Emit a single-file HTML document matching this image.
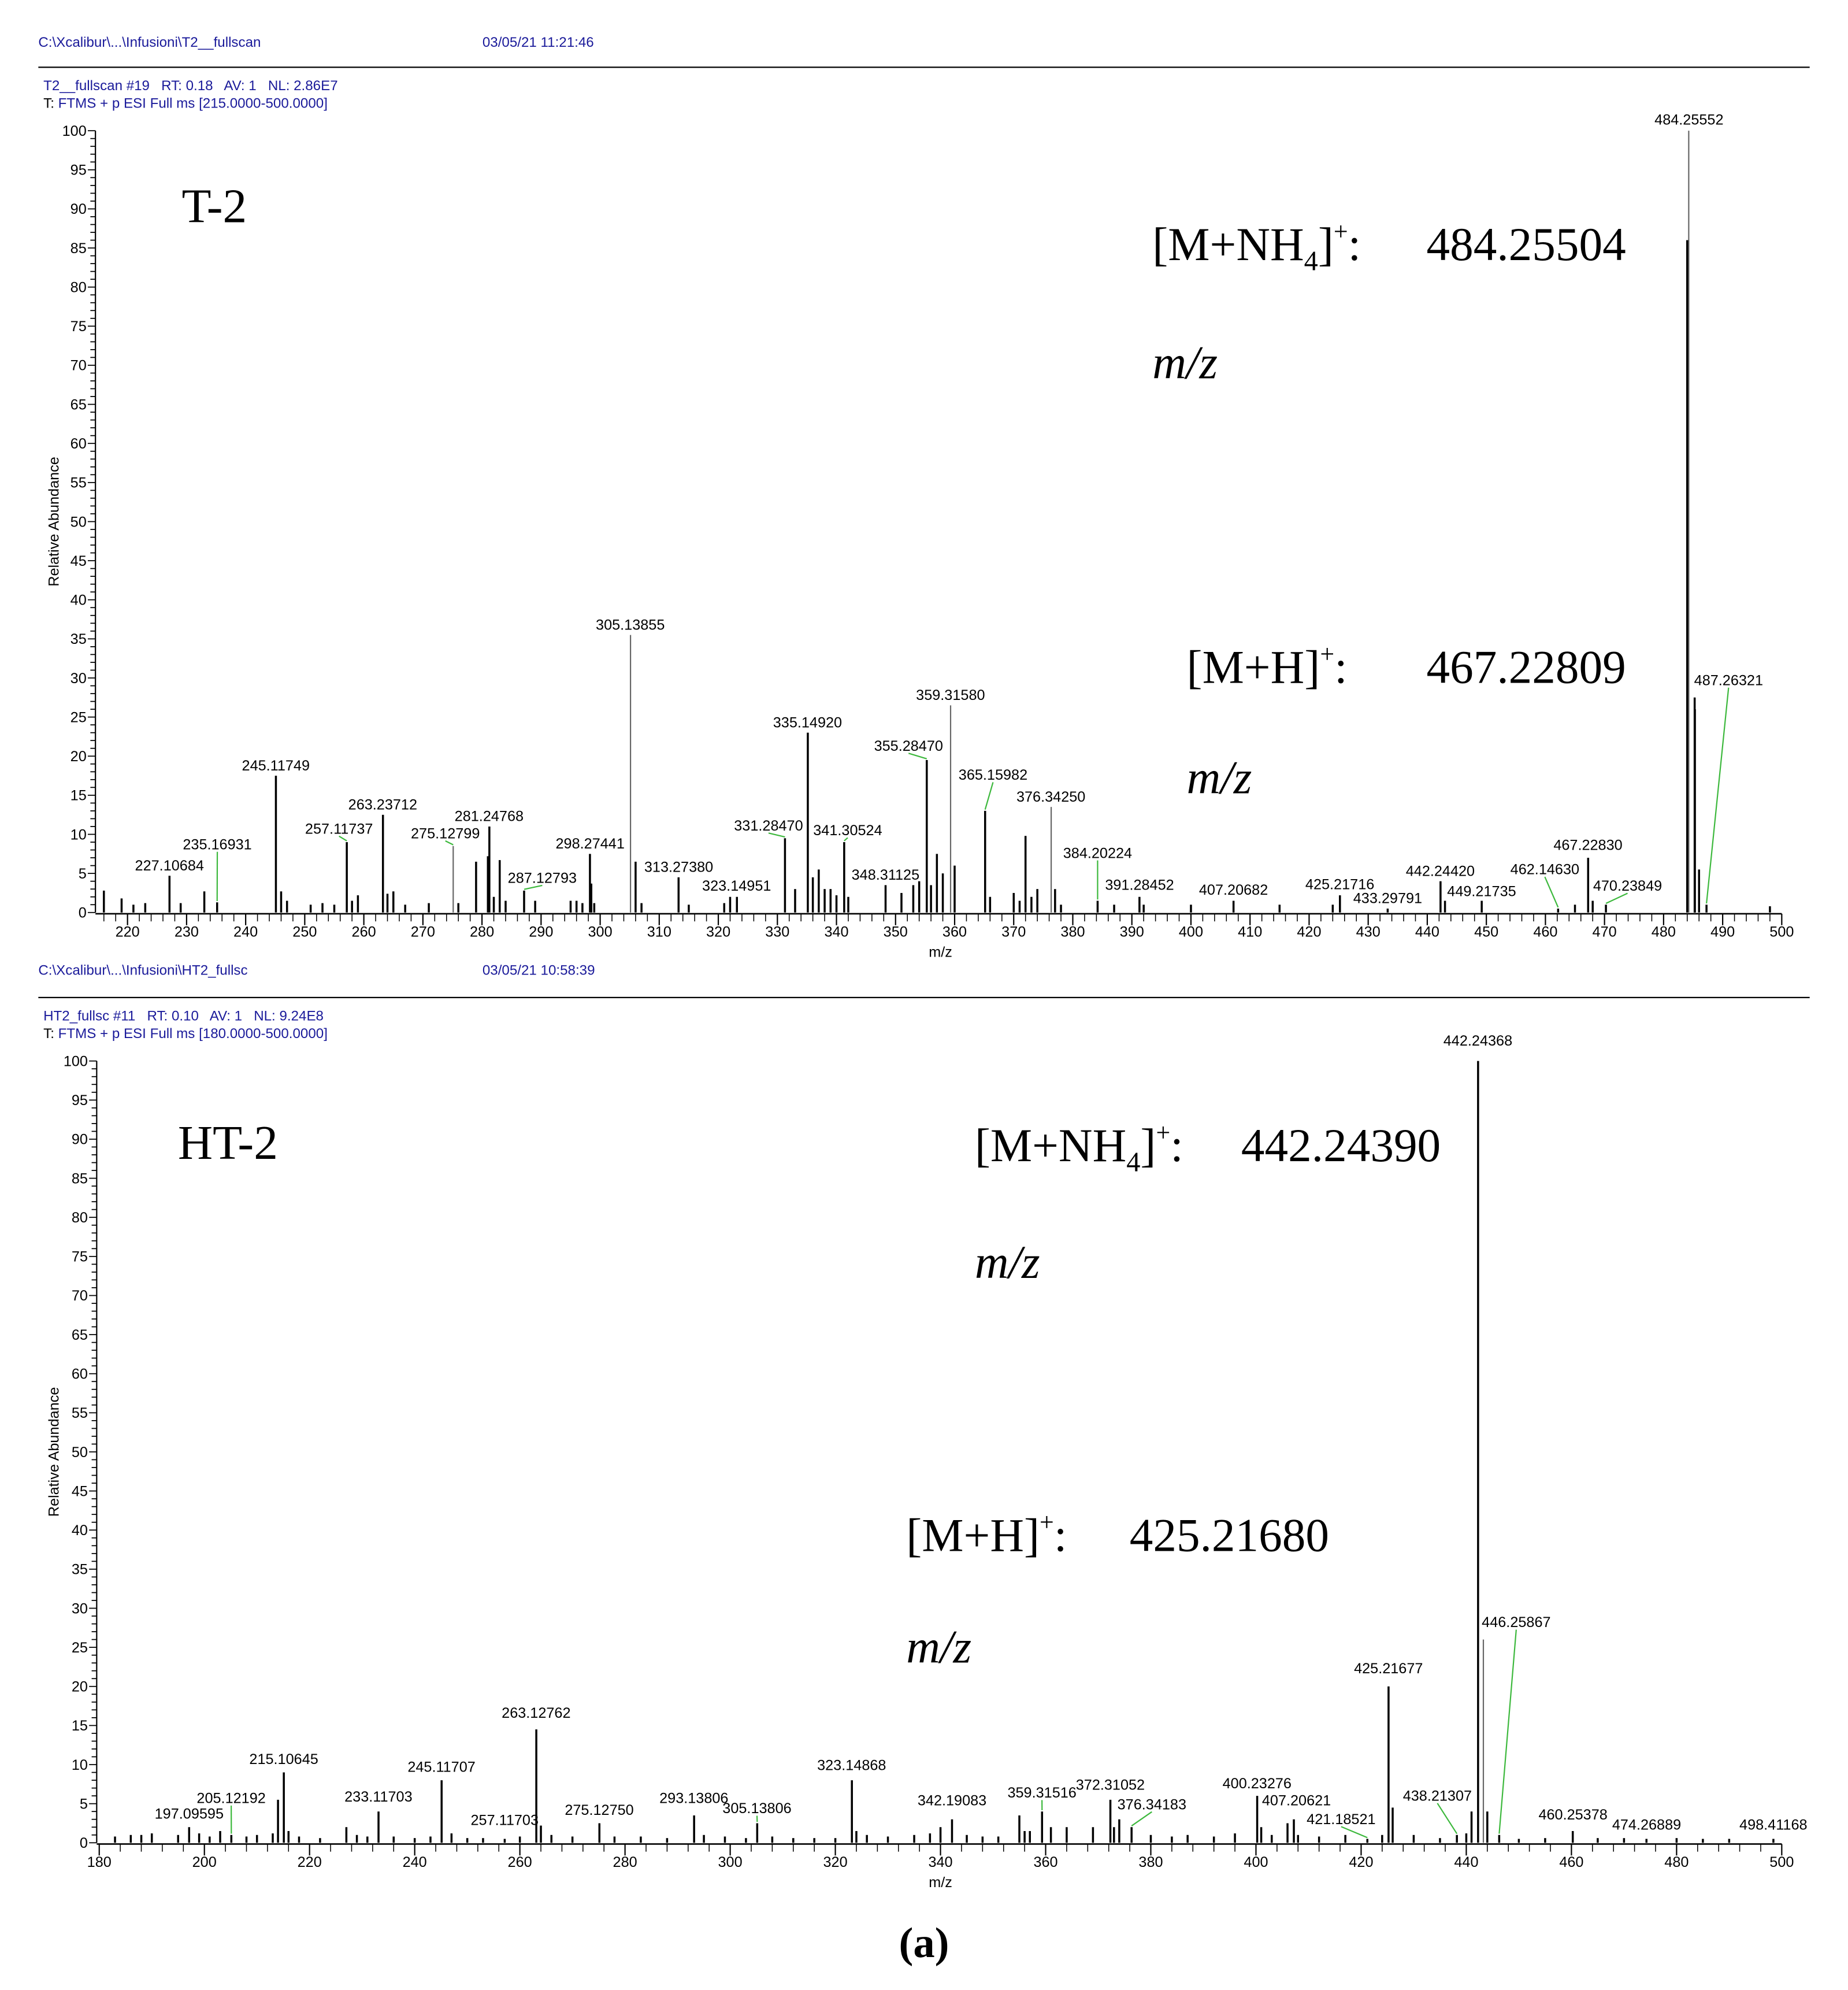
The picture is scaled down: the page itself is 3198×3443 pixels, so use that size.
<!DOCTYPE html>
<html><head><meta charset="utf-8"><style>
html,body{margin:0;padding:0;background:#fff}
svg{display:block}
.hd{font-family:"Liberation Sans",sans-serif;font-size:11px;fill:#1a1a9a;white-space:pre}
.tk{font-family:"Liberation Sans",sans-serif;font-size:11.5px;fill:#000}
.lb{font-family:"Liberation Sans",sans-serif;font-size:11.5px;fill:#000}
.big{font-family:"Liberation Serif",serif;font-size:37px;fill:#000}
</style></head><body>
<svg id="chart" width="3198" height="3443" viewBox="0 0 1456 1568" xmlns="http://www.w3.org/2000/svg" xml:space="preserve">
<g>
<text class="hd" x="30" y="37">C:\Xcalibur\...\Infusioni\T2__fullscan</text>
<text class="hd" x="380" y="37">03/05/21 11:21:46</text>
<line x1="30" y1="53" x2="1426" y2="53" stroke="#000" stroke-width="1"/>
<text class="hd" x="34" y="71">T2__fullscan #19   RT: 0.18   AV: 1   NL: 2.86E7</text>
<text class="hd" x="34" y="85"><tspan fill="#000">T:</tspan> FTMS + p ESI Full ms [215.0000-500.0000]</text>
</g>
<g>
<text class="hd" x="30" y="768">C:\Xcalibur\...\Infusioni\HT2_fullsc</text>
<text class="hd" x="380" y="768">03/05/21 10:58:39</text>
<line x1="30" y1="786" x2="1426" y2="786" stroke="#000" stroke-width="1"/>
<text class="hd" x="34" y="804">HT2_fullsc #11   RT: 0.10   AV: 1   NL: 9.24E8</text>
<text class="hd" x="34" y="818"><tspan fill="#000">T:</tspan> FTMS + p ESI Full ms [180.0000-500.0000]</text>
</g>
<g>
<text class="big" x="143" y="175" style="font-size:38px">T-2</text>
<text class="big" x="908" y="205">[M+NH<tspan font-size="22" dy="8">4</tspan><tspan dy="-8">]</tspan><tspan font-size="20" dy="-16">+</tspan><tspan dy="16">:</tspan></text>
<text class="big" x="1124" y="205">484.25504</text>
<text class="big" x="908" y="298" font-style="italic">m/z</text>
<text class="big" x="935" y="538">[M+H]<tspan font-size="20" dy="-16">+</tspan><tspan dy="16">:</tspan></text>
<text class="big" x="1124" y="538">467.22809</text>
<text class="big" x="935" y="625" font-style="italic">m/z</text>
</g>
<g>
<text class="big" x="140" y="913" style="font-size:38px">HT-2</text>
<text class="big" x="768" y="915">[M+NH<tspan font-size="22" dy="8">4</tspan><tspan dy="-8">]</tspan><tspan font-size="20" dy="-16">+</tspan><tspan dy="16">:</tspan></text>
<text class="big" x="978" y="915">442.24390</text>
<text class="big" x="768" y="1007" font-style="italic">m/z</text>
<text class="big" x="714" y="1222">[M+H]<tspan font-size="20" dy="-16">+</tspan><tspan dy="16">:</tspan></text>
<text class="big" x="890" y="1222">425.21680</text>
<text class="big" x="714" y="1310" font-style="italic">m/z</text>
</g>
<text x="728" y="1542" text-anchor="middle" style="font-family:'Liberation Serif',serif;font-size:34px;font-weight:bold">(a)</text>
</svg>
<script>
// ---- T-2 data ----
const topPeakMz=[216,219,221,223,227.10684,229,233,235.16931,245.11749,246,247,251,253,255,257.11737,258,259,263.23712,264,265,267,271,275.12799,276,279,281.0,281.24768,282,283,284,287.12793,289,295,296,297,298.27441,298.5,299,305.13855,306,307,313.27380,315,321,322,323.14951,331.28470,333,335.14920,336,337,338,339,340,341.30524,342,348.31125,351,353,354,355.28470,356,357,358,359.31580,360,365.15982,366,370,371,372,373,374,376.34250,377,378,384.20224,387,391.28452,392,400,407.20682,415,424,425.21716,433.29791,442.24420,443,449.21735,462.14630,465,467.22830,468,470.23849,484.25552,484.0,485.26,485.3,486,487.26321,498];
const topPeakVal=[2.8,1.8,1,1.2,4.7,1.2,2.7,1.3,17.5,2.7,1.5,1,1.2,1,9,1.5,2.2,12.5,2.4,2.7,1,1.2,8.5,1.2,6.5,7.2,11,2,6.7,1.5,2.8,1.5,1.5,1.5,1.2,7.5,3.7,1.2,35.5,6.5,1.2,4.5,1,1.2,2,2,9.5,3,23,4.5,5.5,3,3,2.2,9,2,3.5,2.5,3.5,4,19.5,3.5,7.5,5,26.5,6,13,2,2.5,1.5,9.8,2,3,13.5,3,1,1.5,1,2,1,1,1.5,1,1,2.2,0.5,4,1.5,1.5,0.5,1,7,1.5,1,100,86,27.5,26,5.5,1,0.8];
const topGreyMz=[275.12799,305.13855,359.31580,376.34250,484.25552];
const topLabels=["227.10684","235.16931","245.11749","257.11737","263.23712","275.12799","281.24768","287.12793","298.27441","305.13855","313.27380","323.14951","331.28470","335.14920","341.30524","348.31125","355.28470","359.31580","365.15982","376.34250","384.20224","391.28452","407.20682","425.21716","433.29791","442.24420","449.21735","462.14630","467.22830","470.23849","484.25552","487.26321"];
const topLabelMz=[227.1,235.2,245.1,255.8,263.2,273.8,281.2,290.2,298.3,305.1,313.3,323.1,328.5,335.1,341.9,348.3,352.2,359.3,366.5,376.3,384.2,391.3,407.2,425.2,433.3,442.2,449.2,459.9,467.2,473.9,484.3,491.0];
const topLabelVal=[4.9,7.6,17.7,9.6,12.7,9,11.2,3.3,7.7,35.7,4.7,2.3,10,23.2,9.4,3.7,20.2,26.7,16.5,13.7,6.5,2.4,1.8,2.5,0.7,4.2,1.6,4.4,7.5,2.3,100.3,28.6];
// ---- HT-2 data ----
const botPeakMz=[183,186,188,190,195,197.09595,199,201,203,205.12192,208,210,213,214,215.10645,216,218,222,227,229,231,233.11703,236,240,243,245.11707,247,250,253,257.11703,260,263.12762,264,266,270,275.12750,278,283,288,293.13806,295,299,303,305.13806,308,312,316,320,323.14868,324,326,330,335,338,340,342.19083,345,348,351,355,356,357,359.31516,361,364,369,372.31052,373,374,376.34183,380,384,387,392,396,400.23276,401,403,406,407.20621,408,412,417,421.18521,424,425.21677,426,430,435,438.21307,440,441,442.24368,443.25,444,446.25867,450,455,460.25378,465,470,474.26889,480,485,490,498.41168];
const botPeakVal=[0.8,1,1,1.2,1,2,1.2,0.8,1.5,1,0.8,1,1.2,5.5,9,1.5,0.8,0.6,2,1,0.8,4,0.8,0.6,0.8,8,1.2,0.6,0.6,0.5,0.8,14.5,2.2,1,0.8,2.5,0.8,0.8,0.6,3.5,1,0.8,0.6,2.5,0.8,0.6,0.6,0.6,8,1.5,1,0.8,1,1.2,2,3,1,0.8,0.8,3.5,1.5,1.5,4,2,2,2,5.5,2,3,2,1,0.8,1,0.8,1.2,6,2,1,2.5,3,1,0.8,1,0.5,1,20,4.5,1,0.6,1,1.2,4,100,26,4,1,0.5,0.6,1.5,0.6,0.6,0.5,0.6,0.5,0.5,0.5];
const botGreyMz=[443.25];
const botLabels=["197.09595","205.12192","215.10645","233.11703","245.11707","257.11703","263.12762","275.12750","293.13806","305.13806","323.14868","342.19083","359.31516","372.31052","376.34183","400.23276","407.20621","421.18521","425.21677","438.21307","442.24368","446.25867","460.25378","474.26889","498.41168"];
const botLabelMz=[197.1,205.1,215.1,233.1,245.1,257.1,263.1,275.1,293.1,305.1,323.1,342.2,359.3,372.3,380.2,400.2,407.7,416.2,425.2,434.5,442.2,449.5,460.3,474.3,498.4];
const botLabelVal=[2.6,4.6,9.6,4.8,8.6,1.8,15.5,3.1,4.6,3.3,8.8,4.3,5.3,6.3,3.8,6.5,4.3,1.9,21.2,4.9,101.5,27.1,2.5,1.2,1.2];
const topLeaders=[1,3,5,7,12,14,16,18,20,27,29,31];
const botLeaders=[1,9,12,14,17,19,21];
const yTicks=[0,5,10,15,20,25,30,35,40,45,50,55,60,65,70,75,80,85,90,95,100];
const topXTicks=[220,230,240,250,260,270,280,290,300,310,320,330,340,350,360,370,380,390,400,410,420,430,440,450,460,470,480,490,500];
const botXTicks=[180,200,220,240,260,280,300,320,340,360,380,400,420,440,460,480,500];

const NS='http://www.w3.org/2000/svg';
const svg=document.getElementById('chart');
function mk(tag,attrs,parent,txt){const e=document.createElementNS(NS,tag);for(const k in attrs)e.setAttribute(k,attrs[k]);if(txt!==undefined)e.textContent=txt;parent.appendChild(e);return e;}

function panel(cfg){
  const g=mk('g',{},svg);
  
  
  const xs=m=>cfg.x0+(m-cfg.xmin)*(cfg.x1-cfg.x0)/(cfg.xmax-cfg.xmin);
  const ys=v=>cfg.y0-v*(cfg.y0-cfg.y100)/100;
  const ya=mk('g',{},g);
  
  
  mk('line',{x1:cfg.x0-2,y1:ys(0),x2:cfg.x0-2,y2:ys(100),stroke:'#000','stroke-width':1},ya);
  for(let v=0;v<=100;v++){const L=v%5===0?6:4;mk('line',{x1:cfg.x0-2-L,y1:ys(v),x2:cfg.x0-2,y2:ys(v),stroke:'#000','stroke-width':0.8},ya);}
  yTicks.forEach(v=>{const t=mk('text',{class:'tk',x:cfg.x0-9,y:ys(v)+4,'text-anchor':'end'},ya,String(v));
    
    });
  const yt=mk('text',{class:'tk',x:0,y:0,'text-anchor':'middle',transform:`translate(46,${(ys(50))}) rotate(-90)`},ya,'Relative Abundance');
  
  
  const xa=mk('g',{},g);
  
  
  mk('line',{x1:cfg.x0-2,y1:ys(0)+1,x2:cfg.x1,y2:ys(0)+1,stroke:'#000','stroke-width':1.2},xa);
  for(let m=Math.ceil(cfg.xmin/cfg.minor)*cfg.minor;m<=cfg.xmax;m+=cfg.minor){const major=m%cfg.major===0;mk('line',{x1:xs(m),y1:ys(0)+1,x2:xs(m),y2:ys(0)+(major?10:7),stroke:'#000','stroke-width':major?1:0.7},xa);}
  cfg.xticks.forEach(m=>{const t=mk('text',{class:'tk',x:xs(m),y:ys(0)+19,'text-anchor':'middle'},xa,String(m));
    
    });
  const xt=mk('text',{class:'tk',x:741,y:ys(0)+35,'text-anchor':'middle'},xa,'m/z');
  
  
  const pg=mk('g',{},g);
  
  
  cfg.mz.forEach((m,i)=>{const grey=cfg.grey.includes(m);
    const l=mk('line',{x1:xs(m),y1:ys(0),x2:xs(m),y2:ys(cfg.val[i]),stroke:grey?'#666':'#000','stroke-width':grey?1:1.6},pg);
    
    });
  const lg=mk('g',{},g);
  
  
  cfg.labels.forEach((s,i)=>{
    const pm=parseFloat(s);let pv=0;let best=1e9;
    cfg.mz.forEach((m,j)=>{if(Math.abs(m-pm)<best){best=Math.abs(m-pm);pv=cfg.val[j];}});
    const lx=xs(cfg.lmz[i]),ly=ys(cfg.lval[i]);
    if(cfg.leaders.includes(i)){const ln=mk('line',{x1:lx,y1:ly-1,x2:xs(pm),y2:ys(pv)-1,stroke:'#3cb83c','stroke-width':1},lg);
      
      }
    const t=mk('text',{class:'lb',x:lx,y:ly-3,'text-anchor':'middle'},lg,s);
    
    
  });
}
panel({name:'t2-spectrum',x0:77,x1:1404,xmin:215,xmax:500,y0:719,y100:103,minor:2,major:10,xticks:topXTicks,mz:topPeakMz,val:topPeakVal,grey:topGreyMz,labels:topLabels,lmz:topLabelMz,lval:topLabelVal,leaders:topLeaders});
panel({name:'ht2-spectrum',x0:78,x1:1404,xmin:180,xmax:500,y0:1452,y100:836,minor:4,major:20,xticks:botXTicks,mz:botPeakMz,val:botPeakVal,grey:botGreyMz,labels:botLabels,lmz:botLabelMz,lval:botLabelVal,leaders:botLeaders});
</script>
</body></html>
